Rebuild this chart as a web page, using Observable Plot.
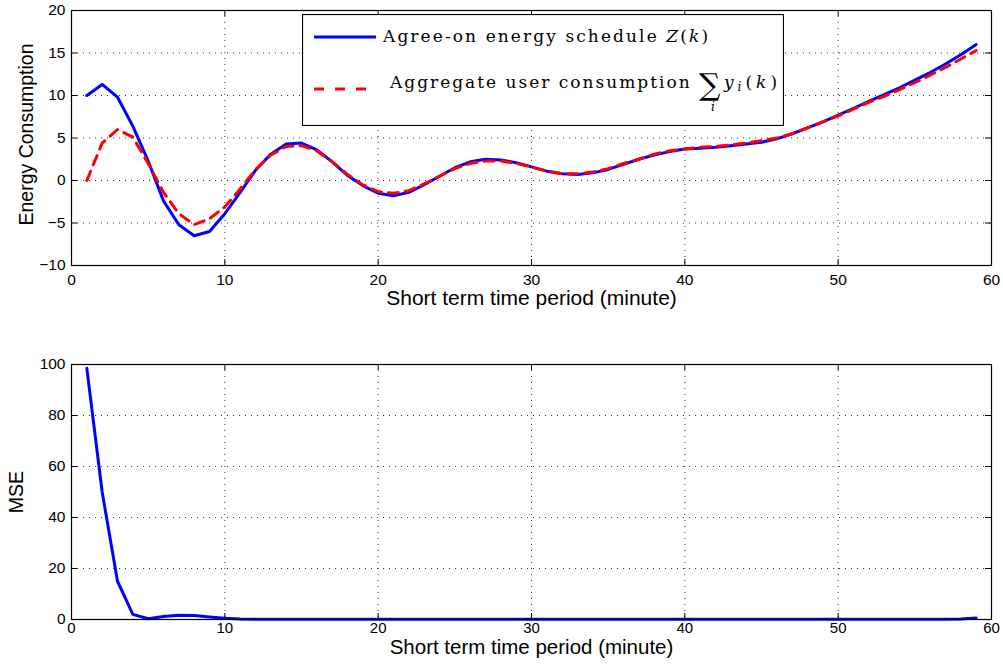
<!DOCTYPE html>
<html><head><meta charset="utf-8">
<script src="https://cdn.jsdelivr.net/npm/d3@7"></script>
<script src="https://cdn.jsdelivr.net/npm/@observablehq/plot@0.6"></script>
<style>
body{margin:0;background:#fff}
#wrap{position:relative;width:1003px;height:670px;overflow:hidden}
#wrap svg{display:block}
#legend{position:absolute;left:302px;top:14px}
</style>
</head><body><div id="wrap"></div>
<script>
// ---- data ----
const schedule = [10,11.3,9.8,6.4,2.3,-2.4,-5.2,-6.5,-6.0,-3.9,
  -1.4,1.2,3.1,4.3,4.4,3.6,2.2,0.6,-0.6,-1.5,
  -1.8,-1.4,-0.5,0.5,1.5,2.2,2.5,2.4,2.1,1.6,
  1.1,0.8,0.7,0.9,1.3,1.9,2.5,3.0,3.4,3.7,
  3.8,3.9,4.1,4.3,4.5,4.9,5.5,6.2,6.9,7.7,
  8.5,9.3,10.1,10.9,11.8,12.7,13.7,14.8,16.0];
const aggregate = [0,4.4,6.0,5.1,2.0,-1.4,-3.9,-5.2,-4.5,-3.1,
  -1.0,1.3,3.0,4.0,4.1,3.5,2.2,0.7,-0.5,-1.3,
  -1.5,-1.2,-0.4,0.5,1.4,2.0,2.3,2.3,2.0,1.6,
  1.1,0.8,0.8,1.0,1.4,2.0,2.5,3.1,3.5,3.7,
  3.9,4.0,4.2,4.4,4.7,5.0,5.5,6.2,6.9,7.6,
  8.4,9.2,9.9,10.7,11.5,12.4,13.3,14.3,15.3];
const mse = [98.5,50,15,2,0.3,1.2,1.7,1.6,1.0,0.5,
  0.2,0.1,0.1,0.1,0.1,0.1,0.1,0.1,0.1,0.1,
  0.1,0.1,0.1,0.1,0.1,0.1,0.1,0.1,0.1,0.1,
  0.1,0.1,0.1,0.1,0.1,0.1,0.1,0.1,0.1,0.1,
  0.1,0.1,0.1,0.1,0.1,0.1,0.1,0.1,0.1,0.1,
  0.1,0.1,0.1,0.1,0.1,0.1,0.1,0.2,0.6];
const xTicks = [0,10,20,30,40,50,60];
const yTicksTop = [-10,-5,0,5,10,15,20];
const yTicksBottom = [0,20,40,60,80,100];
const xLabel = "Short term time period (minute)";
const yLabelTop = "Energy Consumption";
const yLabelBottom = "MSE";

const topRows = schedule.map((v,i)=>({k:i+1, z:v, y:aggregate[i]}));
const mseRows = mse.map((v,i)=>({k:i+1, m:v}));

const W = 1003, ML = 71, MR = 12;
const FW = W - ML - MR;
const FONT = "'Liberation Sans', Arial, Helvetica, sans-serif";

function frameDecor(xt, yt, fh) {
  return [
    Plot.ruleX(xt, {x: d=>d, stroke: "#333", strokeDasharray: "1,5"}),
    Plot.ruleY(yt, {y: d=>d, stroke: "#333", strokeDasharray: "1,5"}),
    Plot.ruleX(xt, {x: d=>d, insetTop: fh-6, stroke: "#000"}),
    Plot.ruleX(xt, {x: d=>d, insetBottom: fh-6, stroke: "#000"}),
    Plot.ruleY(yt, {y: d=>d, insetRight: FW-6, stroke: "#000"}),
    Plot.ruleY(yt, {y: d=>d, insetLeft: FW-6, stroke: "#000"})
  ];
}

function axes(xt, yt, ylab, o) {
  return [
    Plot.axisX(xt, {tickSize: 0, tickPadding: o.xpad, fontSize: o.tfs, label: null}),
    Plot.axisY(yt, {tickSize: 0, tickPadding: 6, fontSize: 15.5, label: null}),
    Plot.text([xLabel], {frameAnchor: "bottom", textAnchor: "middle", lineAnchor: "middle", dy: o.xdy, fontSize: o.xfs, fill: "#000"}),
    Plot.text([ylab], {frameAnchor: "left", textAnchor: "middle", lineAnchor: "middle", rotate: -90, dx: o.ydx, dy: o.ydy, fontSize: 19.5, fill: "#000"})
  ];
}

const H1 = 310, MT1 = 10, MB1 = 45;
const topPlot = Plot.plot({
  width: W, height: H1, marginLeft: ML, marginRight: MR, marginTop: MT1, marginBottom: MB1,
  style: {fontFamily: FONT, fontSize: "15px", color: "#000", background: "#fff", overflow: "visible"},
  x: {domain: [0,60]},
  y: {domain: [-10,20]},
  marks: [
    ...frameDecor(xTicks, yTicksTop, H1-MT1-MB1),
    Plot.line(topRows, {x: "k", y: "z", stroke: "#0000ff", strokeWidth: 3}),
    Plot.line(topRows, {x: "k", y: "y", stroke: "#ff0000", strokeWidth: 3, strokeDasharray: "10,7"}),
    ...axes(xTicks, yTicksTop, yLabelTop, {xpad: 8, tfs: 15.5, xdy: 33, xfs: 21, ydx: -45, ydy: -3.5}),
    Plot.frame({stroke: "#000", strokeWidth: 1.2})
  ]
});

const H2 = 360, MT2 = 54, MB2 = 51;
const botPlot = Plot.plot({
  width: W, height: H2, marginLeft: ML, marginRight: MR, marginTop: MT2, marginBottom: MB2,
  style: {fontFamily: FONT, fontSize: "15px", color: "#000", background: "#fff", overflow: "visible"},
  x: {domain: [0,60]},
  y: {domain: [0,100]},
  marks: [
    ...frameDecor(xTicks, yTicksBottom, H2-MT2-MB2),
    Plot.line(mseRows, {x: "k", y: "m", stroke: "#0000ff", strokeWidth: 3}),
    ...axes(xTicks, yTicksBottom, yLabelBottom, {xpad: 3, tfs: 15, xdy: 28, xfs: 20.5, ydx: -55, ydy: 0}),
    Plot.frame({stroke: "#000", strokeWidth: 1.2})
  ]
});

const wrap = document.getElementById("wrap");
wrap.appendChild(topPlot);
wrap.appendChild(botPlot);

// legend
const legendSeries = [
  {label: "Agree-on energy schedule ", color: "#0000ff"},
  {label: "Aggregate user consumption ", color: "#ff0000"}
];
const LW = 482, LH = 112;
const leg = d3.create("svg").attr("id","legend").attr("width", LW).attr("height", LH)
  .style("font-family", "'DejaVu Serif', 'Liberation Serif', serif");
leg.append("rect").attr("x",0.5).attr("y",0.5).attr("width",LW-1).attr("height",LH-1)
  .attr("fill","#fff").attr("stroke","#000").attr("stroke-width",1.2);
// row 1
leg.append("line").attr("x1",12).attr("x2",74).attr("y1",23).attr("y2",23)
  .attr("stroke",legendSeries[0].color).attr("stroke-width",3);
const t1 = leg.append("text").attr("x",81).attr("y",28).attr("font-size",17).attr("letter-spacing",2.1);
t1.append("tspan").text(legendSeries[0].label);
t1.append("tspan").attr("font-style","italic").text("Z");
t1.append("tspan").text("(");
t1.append("tspan").attr("font-style","italic").text("k");
t1.append("tspan").text(")");
// row 2
leg.append("line").attr("x1",12).attr("x2",66).attr("y1",75).attr("y2",75)
  .attr("stroke",legendSeries[1].color).attr("stroke-width",3).attr("stroke-dasharray","10,11");
leg.append("text").attr("x",88).attr("y",74).attr("font-size",17).attr("letter-spacing",2.0)
  .text(legendSeries[1].label);
leg.append("text").attr("x",397).attr("y",81).attr("font-size",30).text("\u2211");
leg.append("text").attr("x",409).attr("y",97).attr("font-size",12).attr("font-style","italic").text("i");
const t3 = leg.append("text").attr("x",422).attr("y",74).attr("font-size",17).attr("letter-spacing",4);
t3.append("tspan").attr("font-style","italic").text("y");
t3.append("tspan").attr("font-style","italic").attr("font-size",12).attr("dy",3).text("i");
t3.append("tspan").attr("dy",-3).text("(");
t3.append("tspan").attr("font-style","italic").text("k");
t3.append("tspan").text(")");
wrap.appendChild(leg.node());
</script>
</body></html>
